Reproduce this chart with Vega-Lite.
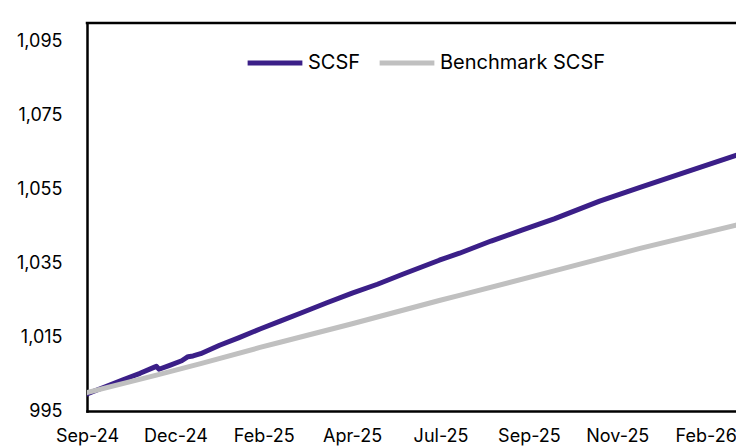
{
  "$schema": "https://vega.github.io/schema/vega-lite/v6.json",
  "width": 649,
  "height": 388,
  "autosize": {"type": "none"},
  "padding": {"left": 87, "top": 23, "right": 0, "bottom": 35},
  "background": "white",
  "config": {"font": "Inter", "view": {"stroke": null}},
  "datasets": {
    "series": [
      {"date": "2024-09-30", "series": "SCSF", "value": 999.6},
      {"date": "2024-10-14", "series": "SCSF", "value": 1001.5},
      {"date": "2024-10-28", "series": "SCSF", "value": 1003.4},
      {"date": "2024-11-11", "series": "SCSF", "value": 1005.2},
      {"date": "2024-11-22", "series": "SCSF", "value": 1006.8},
      {"date": "2024-11-24", "series": "SCSF", "value": 1007.1},
      {"date": "2024-11-26", "series": "SCSF", "value": 1006.3},
      {"date": "2024-12-04", "series": "SCSF", "value": 1007.3},
      {"date": "2024-12-14", "series": "SCSF", "value": 1008.6},
      {"date": "2024-12-19", "series": "SCSF", "value": 1009.7},
      {"date": "2024-12-23", "series": "SCSF", "value": 1009.9},
      {"date": "2024-12-29", "series": "SCSF", "value": 1010.5},
      {"date": "2025-01-13", "series": "SCSF", "value": 1012.8},
      {"date": "2025-01-28", "series": "SCSF", "value": 1014.8},
      {"date": "2025-02-14", "series": "SCSF", "value": 1017.2},
      {"date": "2025-03-02", "series": "SCSF", "value": 1019.3},
      {"date": "2025-03-19", "series": "SCSF", "value": 1021.6},
      {"date": "2025-04-08", "series": "SCSF", "value": 1024.3},
      {"date": "2025-04-28", "series": "SCSF", "value": 1026.9},
      {"date": "2025-05-18", "series": "SCSF", "value": 1029.3},
      {"date": "2025-06-07", "series": "SCSF", "value": 1032.0},
      {"date": "2025-07-06", "series": "SCSF", "value": 1035.8},
      {"date": "2025-07-22", "series": "SCSF", "value": 1037.7},
      {"date": "2025-08-16", "series": "SCSF", "value": 1041.0},
      {"date": "2025-09-10", "series": "SCSF", "value": 1044.0},
      {"date": "2025-10-05", "series": "SCSF", "value": 1047.0},
      {"date": "2025-11-10", "series": "SCSF", "value": 1051.8},
      {"date": "2025-12-12", "series": "SCSF", "value": 1055.5},
      {"date": "2026-01-13", "series": "SCSF", "value": 1059.2},
      {"date": "2026-02-26", "series": "SCSF", "value": 1064.2},
      {"date": "2026-03-31", "series": "SCSF", "value": 1067.9},
      {"date": "2024-09-30", "series": "Benchmark SCSF", "value": 1000.0},
      {"date": "2024-11-24", "series": "Benchmark SCSF", "value": 1004.7},
      {"date": "2024-12-29", "series": "Benchmark SCSF", "value": 1007.8},
      {"date": "2025-02-14", "series": "Benchmark SCSF", "value": 1012.2},
      {"date": "2025-03-02", "series": "Benchmark SCSF", "value": 1013.6},
      {"date": "2025-04-28", "series": "Benchmark SCSF", "value": 1018.6},
      {"date": "2025-07-06", "series": "Benchmark SCSF", "value": 1024.9},
      {"date": "2025-07-22", "series": "Benchmark SCSF", "value": 1026.3},
      {"date": "2025-10-05", "series": "Benchmark SCSF", "value": 1032.9},
      {"date": "2025-12-12", "series": "Benchmark SCSF", "value": 1039.0},
      {"date": "2026-02-26", "series": "Benchmark SCSF", "value": 1045.3},
      {"date": "2026-03-31", "series": "Benchmark SCSF", "value": 1048.0}
    ]
  },
  "layer": [
    {
      "data": {"values": [{}]},
      "mark": {"type": "rule", "color": "black", "strokeWidth": 2.5, "strokeCap": "square"},
      "encoding": {"y": {"datum": 1100, "type": "quantitative"}}
    },
    {
      "data": {"name": "series"},
      "mark": {"type": "line", "strokeWidth": 5, "strokeCap": "round", "strokeJoin": "round", "clip": true},
      "encoding": {
        "x": {
          "field": "date",
          "type": "temporal",
          "scale": {"domain": [{"year": 2024, "month": "sep", "date": 30}, {"year": 2026, "month": "feb", "date": 26}]},
          "axis": {
            "values": [
              {"year": 2024, "month": "sep", "date": 30},
              {"year": 2024, "month": "dec", "date": 9},
              {"year": 2025, "month": "feb", "date": 17},
              {"year": 2025, "month": "apr", "date": 28},
              {"year": 2025, "month": "jul", "date": 7},
              {"year": 2025, "month": "sep", "date": 15},
              {"year": 2025, "month": "nov", "date": 24},
              {"year": 2026, "month": "feb", "date": 2}
            ],
            "format": "%b-%y",
            "title": null,
            "grid": false,
            "ticks": false,
            "tickSize": 0,
            "labelPadding": 16,
            "labelFont": "Inter",
            "labelFontSize": 18,
            "labelColor": "black",
            "domainColor": "black",
            "domainWidth": 2.5,
            "domainCap": "square",
            "labelOverlap": false,
            "labelFlush": false,
            "labelBound": false
          }
        },
        "y": {
          "field": "value",
          "type": "quantitative",
          "scale": {"domain": [995, 1100], "nice": false, "zero": false},
          "axis": {
            "values": [995, 1015, 1035, 1055, 1075, 1095],
            "format": ",d",
            "title": null,
            "grid": false,
            "ticks": false,
            "tickSize": 0,
            "labelPadding": 25,
            "labelFont": "Inter",
            "labelFontSize": 18,
            "labelColor": "black",
            "domainColor": "black",
            "domainWidth": 2.5,
            "domainCap": "square"
          }
        },
        "color": {
          "field": "series",
          "type": "nominal",
          "sort": ["SCSF", "Benchmark SCSF"],
          "scale": {"domain": ["SCSF", "Benchmark SCSF"], "range": ["#3B1F88", "#C0C0C0"]},
          "legend": {
            "orient": "none",
            "legendX": 158,
            "legendY": 10,
            "direction": "horizontal",
            "title": null,
            "symbolType": "stroke",
            "symbolSize": 3000,
            "symbolStrokeWidth": 5,
            "labelFont": "Inter",
            "labelFontSize": 20,
            "labelColor": "black",
            "labelLimit": 400,
            "columnPadding": 8,
            "labelOffset": 3
          }
        }
      }
    }
  ]
}
